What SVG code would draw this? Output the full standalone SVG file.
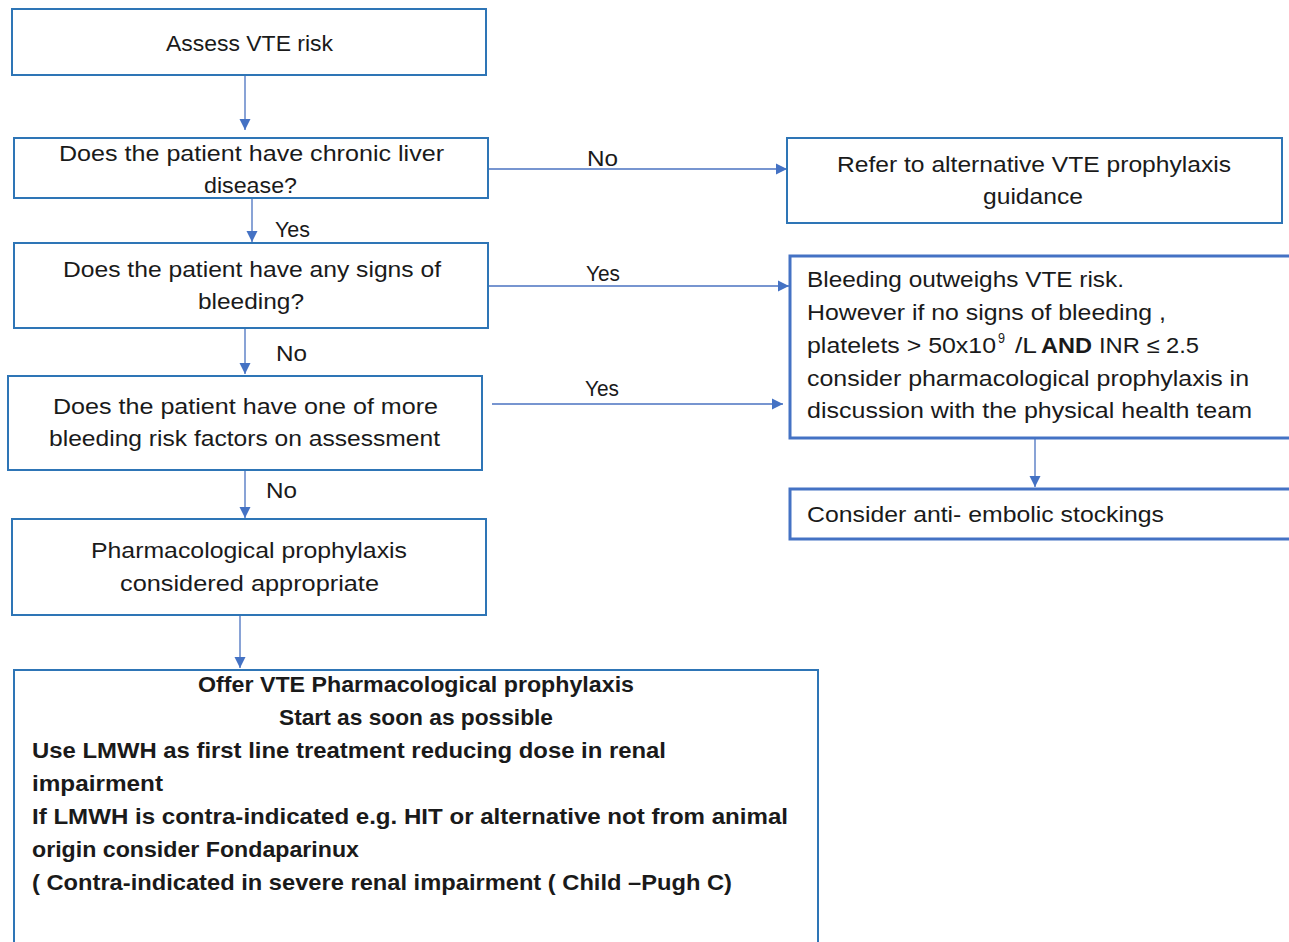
<svg xmlns="http://www.w3.org/2000/svg" width="1289" height="942" viewBox="0 0 1289 942">
<style>
.box{fill:#fff;stroke:#2e75b6;stroke-width:2}
.box2{fill:#fff;stroke:#4472c4;stroke-width:3}
.t{font-family:"Liberation Sans",Arial,sans-serif;font-size:22px;fill:#1a1a1a}
.b{font-weight:bold}
.c{stroke:#4a72c0;stroke-width:1.3;fill:none}
</style>
<defs>
<marker id="ah" markerWidth="12" markerHeight="12" refX="11" refY="6" orient="auto" markerUnits="userSpaceOnUse">
<path d="M0,0.5 L11,6 L0,11.5 z" fill="#4472c4"/>
</marker>
</defs>
<rect width="1289" height="942" fill="#fff"/>
<g id="connectors">
<line class="c" x1="245" y1="76" x2="245" y2="130" marker-end="url(#ah)"/>
<line class="c" x1="252" y1="199" x2="252" y2="242" marker-end="url(#ah)"/>
<line class="c" x1="245" y1="329" x2="245" y2="374" marker-end="url(#ah)"/>
<line class="c" x1="245" y1="471" x2="245" y2="518" marker-end="url(#ah)"/>
<line class="c" x1="240" y1="616" x2="240" y2="668" marker-end="url(#ah)"/>
<line class="c" x1="489" y1="169" x2="787" y2="169" marker-end="url(#ah)"/>
<line class="c" x1="489" y1="286" x2="789" y2="286" marker-end="url(#ah)"/>
<line class="c" x1="492" y1="404" x2="783" y2="404" marker-end="url(#ah)"/>
<line class="c" x1="1035" y1="439" x2="1035" y2="487" marker-end="url(#ah)"/>
<text class="t" x="587" y="166" textLength="31" lengthAdjust="spacingAndGlyphs">No</text>
<text class="t" x="586" y="281" textLength="34" lengthAdjust="spacingAndGlyphs">Yes</text>
<text class="t" x="585" y="396" textLength="34" lengthAdjust="spacingAndGlyphs">Yes</text>
<text class="t" x="275" y="237" textLength="35" lengthAdjust="spacingAndGlyphs">Yes</text>
<text class="t" x="276" y="361" textLength="31" lengthAdjust="spacingAndGlyphs">No</text>
<text class="t" x="266" y="498" textLength="31" lengthAdjust="spacingAndGlyphs">No</text>
</g>
<g id="n1">
<rect class="box" x="12" y="9" width="474" height="66"/>
<text class="t" x="166" y="51" textLength="167" lengthAdjust="spacingAndGlyphs">Assess VTE risk</text>
</g>
<g id="n2">
<rect class="box" x="14" y="138" width="474" height="60"/>
<text class="t" x="59" y="161" textLength="385" lengthAdjust="spacingAndGlyphs">Does the patient have chronic liver</text>
<text class="t" x="204" y="193" textLength="93" lengthAdjust="spacingAndGlyphs">disease?</text>
</g>
<g id="n3">
<rect class="box" x="787" y="138" width="495" height="85"/>
<text class="t" x="837" y="172" textLength="394" lengthAdjust="spacingAndGlyphs">Refer to alternative VTE prophylaxis</text>
<text class="t" x="983" y="204" textLength="100" lengthAdjust="spacingAndGlyphs">guidance</text>
</g>
<g id="n4">
<rect class="box" x="14" y="243" width="474" height="85"/>
<text class="t" x="63" y="277" textLength="378" lengthAdjust="spacingAndGlyphs">Does the patient have any signs of</text>
<text class="t" x="198" y="309" textLength="106" lengthAdjust="spacingAndGlyphs">bleeding?</text>
</g>
<g id="n5">
<rect class="box2" x="790" y="256" width="502" height="182"/>
<text class="t" x="807" y="287" textLength="317" lengthAdjust="spacingAndGlyphs">Bleeding outweighs VTE risk.</text>
<text class="t" x="807" y="320" textLength="359" lengthAdjust="spacingAndGlyphs">However if no signs of bleeding ,</text>
<text class="t" x="807" y="353" textLength="189" lengthAdjust="spacingAndGlyphs">platelets &gt; 50x10</text>
<text class="t" x="998" y="343" style="font-size:14px" textLength="7" lengthAdjust="spacingAndGlyphs">9</text>
<text class="t" x="1015" y="353" textLength="22" lengthAdjust="spacingAndGlyphs">/L</text>
<text class="t b" x="1041" y="353" textLength="51" lengthAdjust="spacingAndGlyphs">AND</text>
<text class="t" x="1099" y="353" textLength="100" lengthAdjust="spacingAndGlyphs">INR ≤ 2.5</text>
<text class="t" x="807" y="386" textLength="442" lengthAdjust="spacingAndGlyphs">consider pharmacological prophylaxis in</text>
<text class="t" x="807" y="418" textLength="445" lengthAdjust="spacingAndGlyphs">discussion with the physical health team</text>
</g>
<g id="n6">
<rect class="box" x="8" y="376" width="474" height="94"/>
<text class="t" x="53" y="414" textLength="385" lengthAdjust="spacingAndGlyphs">Does the patient have one of more</text>
<text class="t" x="49" y="446" textLength="391" lengthAdjust="spacingAndGlyphs">bleeding risk factors on assessment</text>
</g>
<g id="n7">
<rect class="box2" x="790" y="489" width="502" height="50"/>
<text class="t" x="807" y="522" textLength="357" lengthAdjust="spacingAndGlyphs">Consider anti- embolic stockings</text>
</g>
<g id="n8">
<rect class="box" x="12" y="519" width="474" height="96"/>
<text class="t" x="91" y="558" textLength="316" lengthAdjust="spacingAndGlyphs">Pharmacological prophylaxis</text>
<text class="t" x="120" y="591" textLength="259" lengthAdjust="spacingAndGlyphs">considered appropriate</text>
</g>
<g id="n9">
<rect class="box" x="14" y="670" width="804" height="280"/>
<text class="t b" x="198" y="692" textLength="436" lengthAdjust="spacingAndGlyphs">Offer VTE Pharmacological  prophylaxis</text>
<text class="t b" x="279" y="725" textLength="274" lengthAdjust="spacingAndGlyphs">Start as soon as possible</text>
<text class="t b" x="32" y="758" textLength="634" lengthAdjust="spacingAndGlyphs">Use LMWH as first line treatment reducing dose in renal</text>
<text class="t b" x="32" y="791" textLength="131" lengthAdjust="spacingAndGlyphs">impairment</text>
<text class="t b" x="32" y="824" textLength="756" lengthAdjust="spacingAndGlyphs">If LMWH is contra-indicated e.g. HIT or alternative not from animal</text>
<text class="t b" x="32" y="857" textLength="327" lengthAdjust="spacingAndGlyphs">origin consider Fondaparinux</text>
<text class="t b" x="32" y="890" textLength="700" lengthAdjust="spacingAndGlyphs">( Contra-indicated in severe renal impairment ( Child –Pugh C)</text>
</g>
</svg>
